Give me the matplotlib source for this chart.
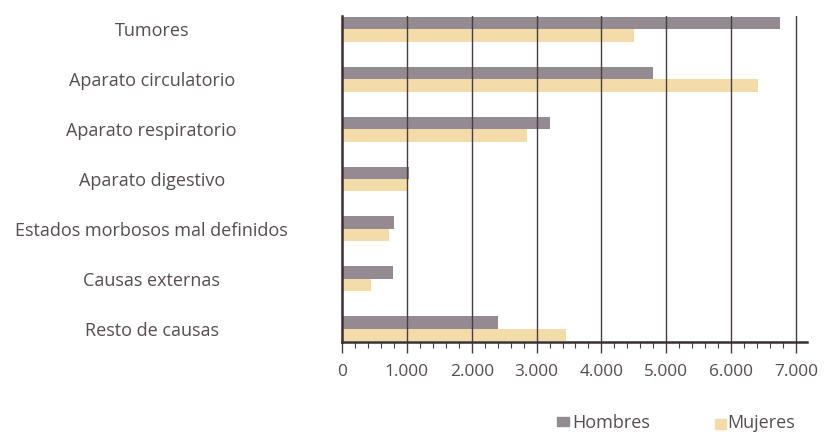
import matplotlib
matplotlib.use('Agg')
import matplotlib.pyplot as plt
import numpy as np
from matplotlib.ticker import MultipleLocator, FuncFormatter
from matplotlib.patches import Rectangle

# data
categorias = ['Tumores', 'Aparato circulatorio', 'Aparato respiratorio',
              'Aparato digestivo', 'Estados morbosos mal definidos',
              'Causas externas', 'Resto de causas']
hombres = [6750, 4790, 3210, 1040, 800, 790, 2400]
mujeres = [4500, 6420, 2850, 1000, 720, 450, 3450]
series = ['Hombres', 'Mujeres']

col_h = '#938a92'
col_m = '#f3dcaa'
col_txt = '#564c51'
col_grid = '#4a3d42'

plt.rcParams['font.family'] = ['Open Sans', 'DejaVu Sans']

W, H = 829, 432
fig = plt.figure(figsize=(W / 100, H / 100), dpi=100)
# axes in pixel terms: left 342, right 807, top 16, bottom 342
ax = fig.add_axes([342 / W, 1 - 342 / H, (807 - 342) / W, (342 - 16) / H])

y = np.arange(len(categorias))
bh = 0.25
ax.barh(y - bh / 2, hombres, height=bh, color=col_h, zorder=3)
ax.barh(y + bh / 2, mujeres, height=bh, color=col_m, zorder=3)

ax.set_xlim(0, 7170)
ax.set_ylim(6.27, -0.27)

ax.xaxis.set_major_locator(MultipleLocator(1000))
ax.xaxis.set_minor_locator(MultipleLocator(200))
ax.xaxis.set_major_formatter(FuncFormatter(lambda v, p: f'{int(v):,}'.replace(',', '.')))
ax.tick_params(axis='x', which='major', length=8, width=1.0, color=col_grid,
               labelsize=12.4, labelcolor=col_txt, pad=8)
ax.tick_params(axis='x', which='minor', length=4, width=0.8, color=col_grid)

ax.set_yticks(y)
ax.set_yticklabels(categorias)
# labels centred on x = 152 px, i.e. 190 px (137 pt) left of the axis
ax.tick_params(axis='y', length=0, labelsize=13, labelcolor=col_txt, pad=137)
for lab in ax.get_yticklabels():
    lab.set_horizontalalignment('center')

# vertical grid at each thousand
for v in range(1000, 8000, 1000):
    ax.axvline(v, color=col_grid, lw=1.0, zorder=4)

for s in ['top', 'right']:
    ax.spines[s].set_visible(False)
ax.spines['left'].set_color('#3a2f33')
ax.spines['left'].set_linewidth(1.8)
ax.spines['left'].set_zorder(5)
ax.spines['bottom'].set_color('#3a2f33')
ax.spines['bottom'].set_linewidth(1.8)

# legend drawn by hand to follow the reference placement
fig.add_artist(Rectangle((557 / W, 1 - 426 / H), 12 / W, 9 / H,
                         transform=fig.transFigure, color=col_h))
fig.text(572 / W, 1 - 423 / H, series[0], fontsize=13, color=col_txt, va='center')
fig.add_artist(Rectangle((715 / W, 1 - 429 / H), 11 / W, 10 / H,
                         transform=fig.transFigure, color=col_m))
fig.text(727 / W, 1 - 428 / H, series[1], fontsize=13, color=col_txt, va='baseline')

fig.savefig('out.png', dpi=100)
